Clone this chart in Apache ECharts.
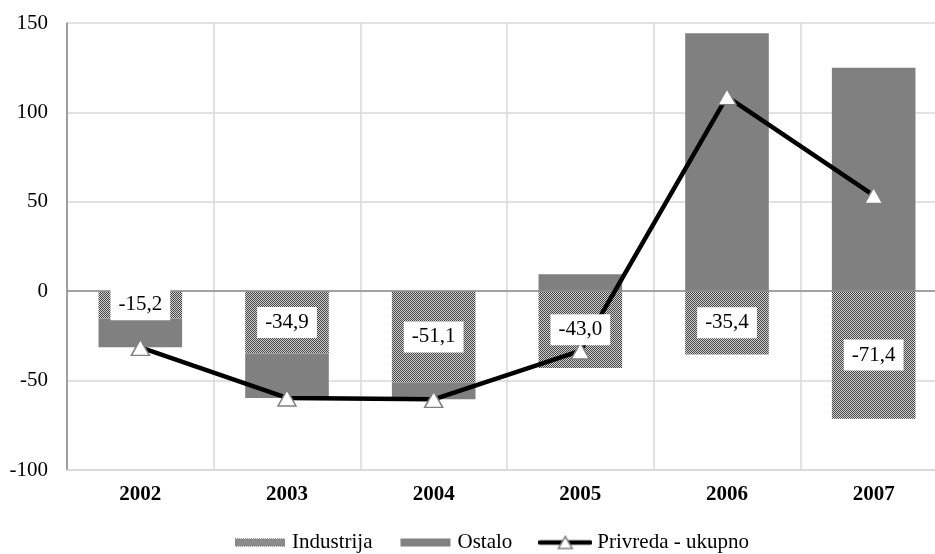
<!DOCTYPE html>
<html>
<head>
<meta charset="utf-8">
<script src="https://cdn.jsdelivr.net/npm/echarts@6/dist/echarts.min.js"></script>
<style>html,body{margin:0;padding:0;background:#fff;overflow:hidden;}#c{width:935px;height:554px;}</style>
</head>
<body>
<div id="c"></div>
<script>
var categories = ['2002', '2003', '2004', '2005', '2006', '2007'];
var industrija = [-15.2, -34.9, -51.1, -43.0, -35.4, -71.4];
var ostalo = [-16.2, -24.8, -9.4, 9.5, 144.2, 125.0];
var ukupno = [-31.4, -59.7, -60.5, -33.4, 108.8, 53.6];
var seriesNames = ['Industrija', 'Ostalo', 'Privreda - ukupno'];

var FONT = 'Liberation Serif';
var DARK = '#454545', LIGHT = '#d0d0d0';

function makePattern() {
  var cv = document.createElement('canvas');
  cv.width = 2; cv.height = 2;
  var ctx = cv.getContext('2d');
  ctx.fillStyle = LIGHT;
  ctx.fillRect(0, 0, 2, 2);
  ctx.fillStyle = DARK;
  ctx.fillRect(0, 0, 1, 1);
  ctx.fillRect(1, 1, 1, 1);
  return cv;
}
var pattern = { image: makePattern(), repeat: 'repeat' };

// legend icons drawn as small images
function iconCanvas(draw) {
  var cv = document.createElement('canvas');
  cv.width = 54; cv.height = 16;
  var ctx = cv.getContext('2d');
  draw(ctx);
  return 'image://' + cv.toDataURL();
}
var iconInd = iconCanvas(function (ctx) {
  ctx.fillStyle = ctx.createPattern(makePattern(), 'repeat');
  ctx.fillRect(2, 4, 50, 8);
});
var iconOst = iconCanvas(function (ctx) {
  ctx.fillStyle = '#808080';
  ctx.fillRect(2, 4, 50, 8);
});
var iconLine = iconCanvas(function (ctx) {
  ctx.strokeStyle = '#000';
  ctx.lineWidth = 4.5;
  ctx.lineCap = 'round';
  ctx.beginPath(); ctx.moveTo(2, 8); ctx.lineTo(52, 8); ctx.stroke();
  ctx.fillStyle = '#fff';
  ctx.strokeStyle = '#808080';
  ctx.lineWidth = 1.5;
  ctx.beginPath(); ctx.moveTo(27, 2); ctx.lineTo(34, 14); ctx.lineTo(20, 14); ctx.closePath();
  ctx.fill(); ctx.stroke();
});

var chart = echarts.init(document.getElementById('c'), null, { renderer: 'canvas' });
chart.setOption({
  animation: false,
  textStyle: { fontFamily: FONT },
  grid: { left: 67, top: 23, height: 447, width: 880, containLabel: false, outerBoundsMode: 'none' },
  legend: {
    top: 527,
    left: 228,
    itemWidth: 54,
    itemHeight: 16,
    itemGap: 26,
    textStyle: { fontFamily: FONT, fontSize: 21, color: '#000' },
    data: [
      { name: seriesNames[0], icon: iconInd },
      { name: seriesNames[1], icon: iconOst },
      { name: seriesNames[2], icon: iconLine }
    ]
  },
  xAxis: {
    type: 'category',
    data: categories,
    axisLine: { onZero: false, lineStyle: { color: '#d9d9d9', width: 1.5 } },
    axisTick: { show: false },
    splitLine: { show: true, lineStyle: { color: '#d9d9d9', width: 1.5 } },
    axisLabel: { fontFamily: FONT, fontSize: 21, fontWeight: 'bold', color: '#000', margin: 14 }
  },
  yAxis: {
    type: 'value',
    min: -100, max: 150, interval: 50,
    axisLine: { show: true, lineStyle: { color: '#888', width: 1.5 } },
    axisTick: { show: false },
    splitLine: { lineStyle: { color: '#d9d9d9', width: 1.5 } },
    axisLabel: { fontFamily: FONT, fontSize: 21, color: '#000', margin: 19 }
  },
  series: [
    {
      name: seriesNames[0],
      type: 'bar',
      stack: 'a',
      data: industrija,
      barWidth: '57%',
      barGap: '-100%',
      itemStyle: { color: pattern },
      markLine: {
        silent: true,
        symbol: 'none',
        label: { show: false },
        lineStyle: { color: '#8c8c8c', width: 1.5, type: 'solid' },
        data: [{ yAxis: 0 }]
      },
      z: 2
    },
    {
      name: seriesNames[1],
      type: 'bar',
      stack: 'a',
      data: ostalo,
      barWidth: '57%',
      barGap: '-100%',
      itemStyle: { color: '#808080' },
      z: 2
    },
    {
      name: seriesNames[2],
      type: 'line',
      data: ukupno,
      symbol: 'triangle',
      symbolSize: [18, 16],
      lineStyle: { color: '#000', width: 4.5 },
      itemStyle: { color: '#fff', borderColor: '#808080', borderWidth: 1.5 },
      z: 5
    },
    {
      name: 'labels',
      type: 'bar',
      stack: 'lbl',
      data: industrija,
      barWidth: '57%',
      barGap: '-100%',
      itemStyle: { color: 'rgba(0,0,0,0)' },
      silent: true,
      label: {
        show: true,
        position: 'inside',
        formatter: function (p) { return p.value.toFixed(1).replace('.', ','); },
        fontFamily: FONT, fontSize: 21, color: '#000',
        backgroundColor: '#fff',
        padding: [5, 8]
      },
      z: 10
    }
  ]
});
</script>
</body>
</html>
